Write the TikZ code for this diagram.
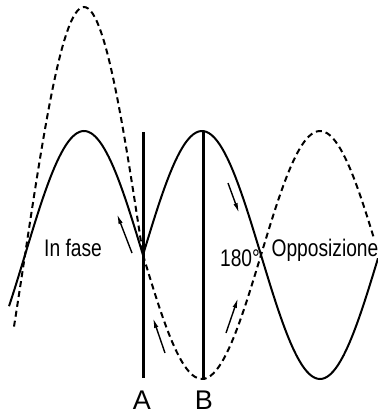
\documentclass[tikz,border=0pt]{standalone}
\usepackage{fontspec}
\setmainfont{Liberation Sans}
\newfontfamily\narrowfont[FakeStretch=0.8]{Liberation Sans}
\usetikzlibrary{arrows.meta,positioning}

\begin{document}
\begin{tikzpicture}[x=0.5pt,y=-0.5pt,>={Latex[length=5pt,width=2.2pt]}]
\tikzset{wave/.style={line width=1pt},
  refl/.style={line width=1pt,dash pattern=on 3pt off 2pt},
  wall/.style={line width=1.5pt},
  lbl/.style={font=\narrowfont\fontsize{12}{12}\selectfont,inner sep=0pt},
  pt/.style={font=\fontsize{13.5}{13.5}\selectfont,inner sep=0pt},
  dir/.style={->,line width=0.7pt}}
\useasboundingbox (0,0) rectangle (378,413);
% waves
\draw[wave] plot[domain=9:143,samples=60] (\x,{255-124*sin((143-\x)/59*90)});
\draw[wave] plot[domain=143:378,samples=90] (\x,{255-124*sin((\x-143)/59*90)});
\draw[refl] plot[domain=14:143,samples=60] (\x,{255-248*sin((143-\x)/59*90)});
\draw[refl] plot[domain=143:374,samples=90] (\x,{255+124*sin((\x-143)/59*90)});
% walls
\coordinate (atop) at (143,132);
\coordinate (abot) at (143,378);
\coordinate (btop) at (203,132);
\coordinate (bbot) at (203,380);
\draw[wall] (atop) -- (abot);
\draw[wall] (btop) -- (bbot);
\node[pt] (a) at (142,400) {A};
\node[pt] (b) at (204,400) {B};
% labels
\node[lbl] (fase) at (73,248) {In fase};
\node[lbl] (deg) at (240,258) {180°};
\node[lbl] (opp) at (325,250) {Opposizione};
% arrows
\coordinate (d1) at (132,253); \coordinate (d2) at (117,214);
\coordinate (d3) at (165,353); \coordinate (d4) at (153,318);
\coordinate (d5) at (228,183); \coordinate (d6) at (239,213);
\coordinate (d7) at (226,333); \coordinate (d8) at (238,298);
\draw[dir] (d1) -- (d2);
\draw[dir] (d3) -- (d4);
\draw[dir] (d5) -- (d6);
\draw[dir] (d7) -- (d8);
\end{tikzpicture}
\end{document}
